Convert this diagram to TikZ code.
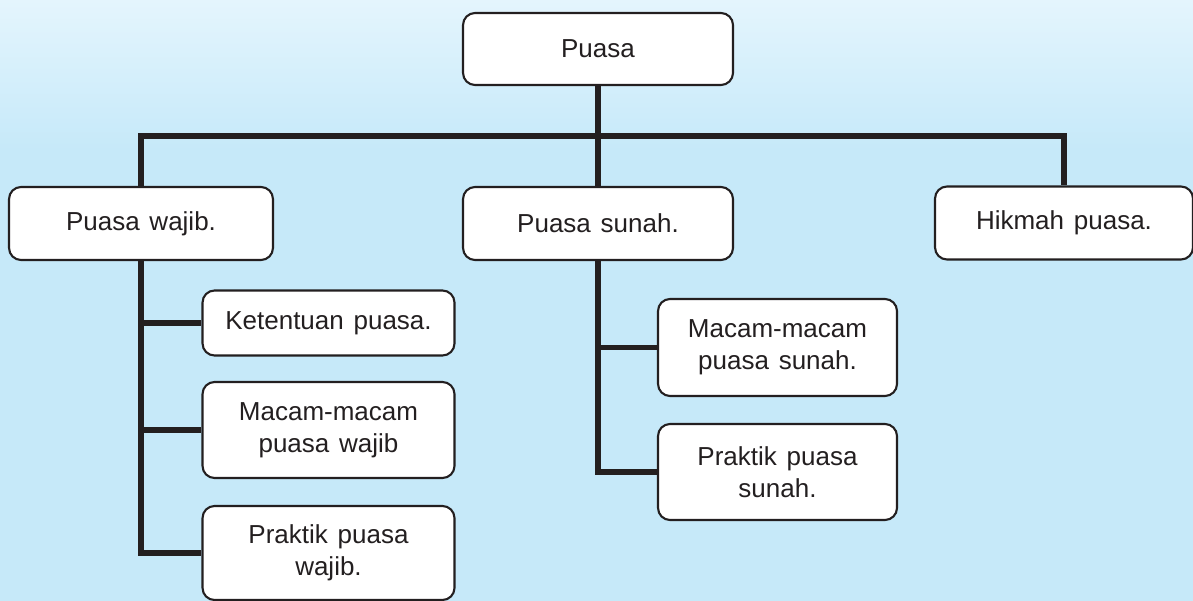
\documentclass[tikz,border=0pt]{standalone}
\usepackage{fontspec}
\setmainfont{Liberation Sans}[WordSpace=1.35]
\definecolor{bgblue}{RGB}{198,233,249}
\definecolor{bgtop}{RGB}{228,245,253}
\definecolor{ink}{RGB}{35,31,32}
\tikzset{
    box/.style={draw=ink, line width=1.2pt, fill=white, rounded corners=0.24cm,
        align=center, text=ink, font=\fontsize{14.8}{18}\selectfont, inner sep=0pt},
    link/.style={draw=ink, line width=2.9pt}
}
\begin{document}
\begin{tikzpicture}[x=0.02cm, y=-0.02cm]
    % Background
    \useasboundingbox (0,0) rectangle (1193,601);
    \fill[bgblue] (0,0) rectangle (1193,601);
    \shade[top color=bgtop, bottom color=bgblue] (0,0) rectangle (1193,150);

    % Top level
    \node[box, minimum width=5.4cm, minimum height=1.44cm] (puasa) at (598,49) {Puasa};

    % Second level
    \node[box, minimum width=5.28cm, minimum height=1.46cm] (wajib) at (141,223.5) {Puasa wajib.};
    \node[box, minimum width=5.4cm, minimum height=1.46cm] (sunah) at (598,223.5) {Puasa sunah.};
    \node[box, minimum width=5.16cm, minimum height=1.46cm] (hikmah) at (1064,223) {Hikmah puasa.};

    % Under puasa wajib
    \node[box, minimum width=5.04cm, minimum height=1.3cm] (ketentuan) at (328.5,323) {Ketentuan puasa.};
    \node[box, minimum width=5.04cm, minimum height=1.92cm] (macamwajib) at (328.5,430) {Macam-macam\\puasa wajib};
    \node[box, minimum width=5.04cm, minimum height=1.88cm] (praktikwajib) at (328.5,553) {Praktik puasa\\wajib.};

    % Under puasa sunah
    \node[box, minimum width=4.78cm, minimum height=1.94cm] (macamsunah) at (777.5,347.5) {Macam-macam\\puasa sunah.};
    \node[box, minimum width=4.78cm, minimum height=1.92cm] (praktiksunah) at (777.5,472) {Praktik puasa\\sunah.};

    % Connectors
    \coordinate (bus) at (598,136);
    \draw[link] (puasa.south) -- (sunah.north);
    \draw[link] (wajib.north) |- (bus) -| (hikmah.north);

    \draw[link] (wajib.south) |- (praktikwajib.west);
    \draw[link] (wajib.south |- ketentuan.west) -- (ketentuan.west);
    \draw[link] (wajib.south |- macamwajib.west) -- (macamwajib.west);

    \draw[link] (sunah.south) |- (praktiksunah.west);
    \draw[link] (sunah.south |- macamsunah.west) -- (macamsunah.west);
\end{tikzpicture}
\end{document}
